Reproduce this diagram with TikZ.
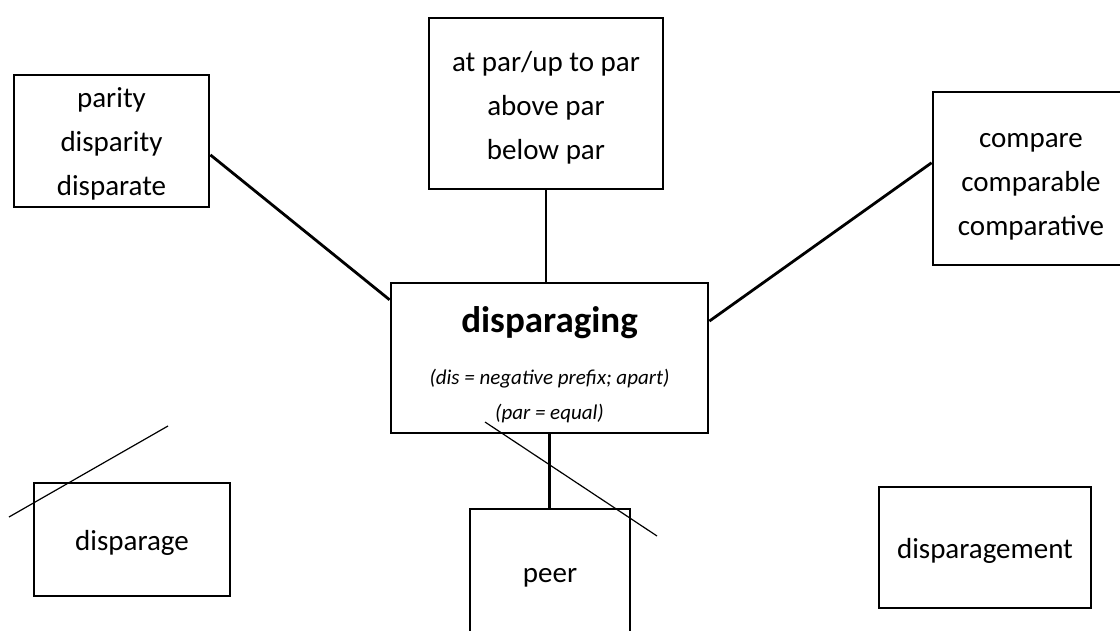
\documentclass[tikz,border=0pt]{standalone}
\usepackage{fontspec}
\setmainfont{Carlito}
\newcommand\lift[1]{\rule{0pt}{#1}}

\begin{document}
\begin{tikzpicture}[x=1pt,y=-1pt,
  wordbox/.style={draw,line width=2.8pt,inner sep=0pt,align=center,
    font=\fontsize{29}{44}\selectfont},
  link/.style={line width=2.8pt},
  strike/.style={line width=1.2pt}]
\useasboundingbox (0,0) rectangle (1120,631);

% the root word in the middle
\node[wordbox,minimum width=317,minimum height=150,
  font=\fontsize{21}{35}\selectfont\itshape] (core) at (549.5,358)
  {\lift{40pt}{\fontsize{37}{44}\selectfont\bfseries\upshape disparaging}\\[17pt]
   (dis = negative prefix; apart)\\(par = equal)};

% related words round it
\node[wordbox,minimum width=195,minimum height=132] (parity) at (111.5,141) {\lift{26pt}parity\\disparity\\disparate};
\node[wordbox,minimum width=234,minimum height=171] (par) at (546,103.5) {\lift{28pt}at par/up to par\\above par\\below par};
\node[wordbox,minimum width=196,minimum height=173] (compare) at (1031,178.5) {\lift{31pt}compare\\comparable\\comparative};
\node[wordbox,minimum width=196,minimum height=113] (disparage) at (132,539.5) {\lift{27pt}disparage};
\node[wordbox,minimum width=160,minimum height=138] (peer) at (550,578) {peer};
\node[wordbox,minimum width=212,minimum height=121] (disparagement) at (985,547.5) {\lift{26pt}disparagement};

\draw[link] (parity.-8.2) -- (core.160.9);
\draw[link] (par.south) -- (par.south |- core.north);
\draw[link] (compare.171) -- (core.13.1);
\draw[link] (core.south) -- (core.south |- peer.north);

% crossed out
\coordinate (s1a) at (9,517);  \coordinate (s1b) at (168,426);
\coordinate (s2a) at (485,422); \coordinate (s2b) at (657,536);
\draw[strike] (s1a) -- (s1b);
\draw[strike] (s2a) -- (s2b);
\end{tikzpicture}
\end{document}
